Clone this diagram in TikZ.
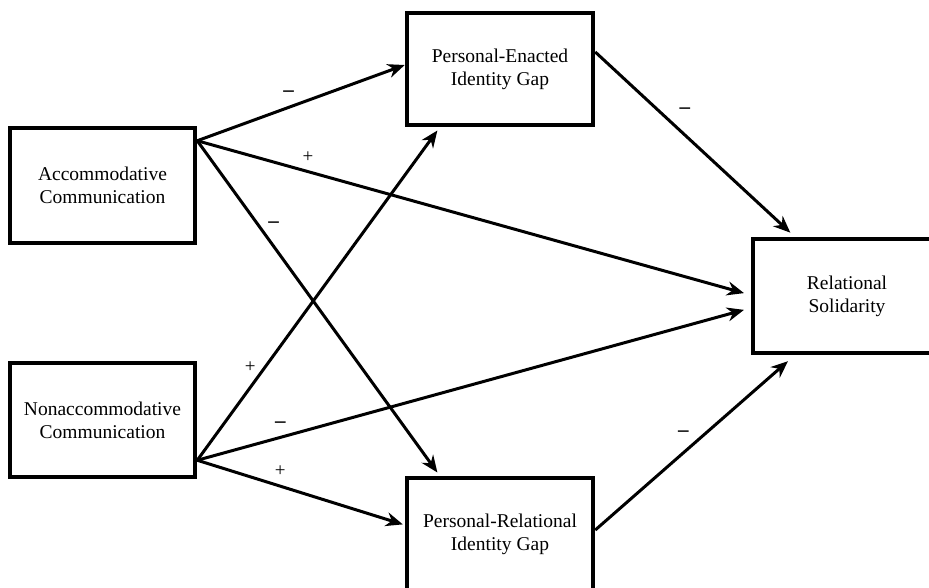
\documentclass[tikz,border=0pt]{standalone}
\usepackage{fontspec}
\setmainfont{Liberation Serif}
\usetikzlibrary{arrows.meta}

\begin{document}
\begin{tikzpicture}[x=1pt,y=-1pt, bnode/.style={draw,line width=4.5pt,align=center,inner sep=0pt,font=\fontsize{19.5}{23}\selectfont}, snode/.style={inner sep=1pt,font=\fontsize{19}{19}\selectfont}, mnode/.style={inner sep=1pt,font=\fontsize{21}{21}\bfseries}, link/.style={->,>={Stealth[length=17pt,width=14pt]},line width=3pt}]
    \useasboundingbox (0,0) rectangle (929,588);
    \node[bnode, minimum width=185pt, minimum height=115pt] (acc) at (102.5,185.5) {Accommodative\\Communication};
    \node[bnode, minimum width=185pt, minimum height=114pt] (non) at (102.5,420) {Nonaccommodative\\Communication};
    \node[bnode, minimum width=186pt, minimum height=112pt] (pe) at (500,69) {Personal-Enacted\\Identity Gap};
    \node[bnode, minimum width=186pt, minimum height=112pt] (pr) at (500,534) {Personal-Relational\\Identity Gap};
    \node[bnode, minimum width=188pt, minimum height=114pt] (rs) at (847,296) {Relational\\Solidarity};

    \path ([yshift=-15pt]acc.north east) edge[link] node [mnode, pos=0.44, above=8pt] {--} ([yshift=4pt]pe.west) ;
    \path ([yshift=-15pt]acc.north east) edge[link, shorten >=7pt] node [snode, pos=0.2, above=7pt] {+} ([yshift=1pt]rs.west) ;
    \path ([yshift=-15pt]acc.north east) edge[link, shorten >=4pt] node [mnode, pos=0.25, right=8pt] {--} ([xshift=35pt]pr.north west) ;
    \path ([yshift=19pt]non.south east) edge[link, shorten >=4pt] node [snode, pos=0.28, left=7pt] {+} ([xshift=35pt]pe.south west) ;
    \path ([yshift=19pt]non.south east) edge[link, shorten >=7pt] node [mnode, pos=0.15, above=7pt] {--} ([yshift=-12pt]rs.west) ;
    \path ([yshift=19pt]non.south east) edge[link, shorten >=2pt] node [snode, pos=0.4, above=7pt] {+} ([yshift=9pt]pr.west) ;
    \path ([yshift=17pt]pe.east) edge[link, shorten >=6pt] node [mnode, pos=0.38, above right=6pt] {--} ([xshift=44pt]rs.north west) ;
    \path ([yshift=4pt]pr.east) edge[link, shorten >=9pt] node [mnode, pos=0.5, above left=4pt] {--} ([xshift=44pt]rs.south west) ;
\end{tikzpicture}
\end{document}
